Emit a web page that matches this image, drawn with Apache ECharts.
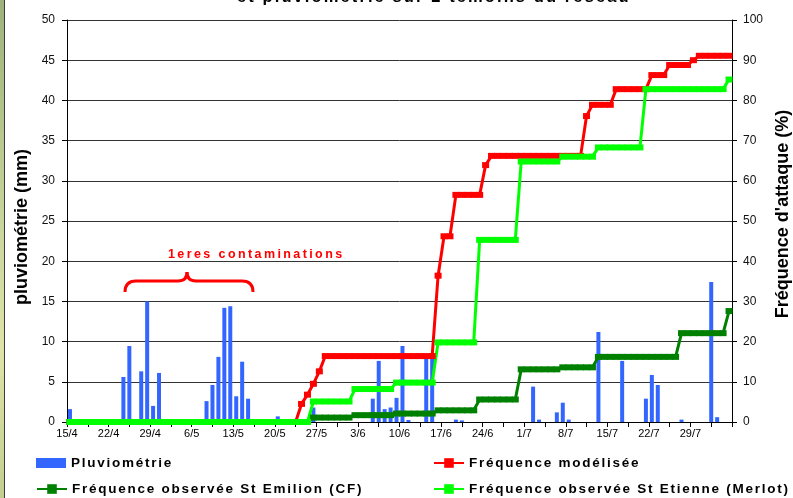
<!DOCTYPE html>
<html>
<head>
<meta charset="utf-8">
<title>Fréquence d'attaque et pluviométrie</title>
<script src="https://cdn.jsdelivr.net/npm/echarts@6/dist/echarts.min.js"></script>
<style>
  html, body { margin: 0; padding: 0; background: #fff; }
  #chart { width: 793px; height: 498px; }
  #strip {
    position: absolute; left: 0; top: 0; width: 4px; height: 498px;
    background: linear-gradient(#9db27c, #c9d69a 45%, #dfe3a8 70%, #c3cf8c);
    border-right: 1px solid #3c3c3c; z-index: 2;
  }
</style>
</head>
<body>
<div id="strip"></div>
<div id="chart"></div>
<script>
// texte "espacé" comme dans le graphique Excel d'origine (police Arial seulement)
// espacement en px selon la taille de police
const spacing = { '12.5': 2.4, '13.5': 1.75, '16.5': 2.1 };
(function () {
  const proto = CanvasRenderingContext2D.prototype;
  if (!('letterSpacing' in proto)) return;
  const fill = proto.fillText;
  proto.fillText = function (text, x, y, maxWidth) {
    const m = /([\d.]+)px Arial/.exec(this.font);
    this.letterSpacing = (m && spacing[m[1]] ? spacing[m[1]] : 0) + 'px';
    const r = maxWidth === undefined ? fill.call(this, text, x, y) : fill.call(this, text, x, y, maxWidth);
    this.letterSpacing = '0px';
    return r;
  };
})();

// étiquettes de l'axe des dates (une par semaine, à partir du 15/4)
const xLabels = ['15/4', '22/4', '29/4', '6/5', '13/5', '20/5', '27/5', '3/6',
  '10/6', '17/6', '24/6', '1/7', '8/7', '15/7', '22/7', '29/7'];

// pluviométrie journalière (mm)
const rainDates = ['15/4', '24/4', '25/4', '27/4', '28/4', '29/4', '30/4',
  '8/5', '9/5', '10/5', '11/5', '12/5', '13/5', '14/5', '15/5', '20/5', '26/5',
  '5/6', '6/6', '7/6', '8/6', '9/6', '10/6', '11/6', '14/6', '15/6', '19/6', '20/6',
  '2/7', '3/7', '6/7', '7/7', '8/7', '13/7', '17/7', '21/7', '22/7', '23/7', '27/7',
  '1/8', '2/8'];
const rainMm = [1.6, 5.6, 9.45, 6.3, 15.0, 2.0, 6.1,
  2.6, 4.6, 8.1, 14.2, 14.4, 3.2, 7.5, 2.9, 0.7, 1.8,
  2.9, 7.6, 1.6, 1.8, 3.0, 9.45, 0.25, 7.9, 7.9, 0.3, 0.2,
  4.4, 0.3, 1.2, 2.4, 0.3, 11.2, 7.6, 2.9, 5.85, 4.6, 0.3,
  17.4, 0.6];

// fréquences d'attaque (%), une valeur par jour du 15/4 au 4/8 (une ligne = une semaine)
const freqModel = [
  0, 0, 0, 0, 0, 0, 0,
  0, 0, 0, 0, 0, 0, 0,
  0, 0, 0, 0, 0, 0, 0,
  0, 0, 0, 0, 0, 0, 0,
  0, 0, 0, 0, 0, 0, 0,
  0, 0, 0, 0, 4.5, 6.8, 9.5,
  12.6, 16.4, 16.4, 16.4, 16.4, 16.4, 16.4,
  16.4, 16.4, 16.4, 16.4, 16.4, 16.4, 16.4,
  16.4, 16.4, 16.4, 16.4, 16.4, 16.4, 36.4,
  46.2, 46.2, 56.5, 56.5, 56.5, 56.5, 56.5,
  63.9, 66.2, 66.2, 66.2, 66.2, 66.2, 66.2,
  66.2, 66.2, 66.2, 66.2, 66.2, 66.2, 66.2,
  66.2, 66.2, 66.2, 76.1, 78.9, 78.9, 78.9,
  78.9, 82.8, 82.8, 82.8, 82.8, 82.8, 82.8,
  86.3, 86.3, 86.3, 88.8, 88.8, 88.8, 88.8,
  90.0, 91.1, 91.1, 91.1, 91.1, 91.1, 91.1
];
const freqEmilion = [
  0, 0, 0, 0, 0, 0, 0,
  0, 0, 0, 0, 0, 0, 0,
  0, 0, 0, 0, 0, 0, 0,
  0, 0, 0, 0, 0, 0, 0,
  0, 0, 0, 0, 0, 0, 0,
  0, 0, 0, 0, 0, 0, 1.1,
  1.1, 1.1, 1.1, 1.1, 1.1, 1.1, 1.7,
  1.7, 1.7, 1.7, 1.7, 1.7, 1.7, 2.1,
  2.1, 2.1, 2.1, 2.1, 2.1, 2.1, 2.9,
  2.9, 2.9, 2.9, 2.9, 2.9, 2.9, 5.6,
  5.6, 5.6, 5.6, 5.6, 5.6, 5.6, 13.1,
  13.1, 13.1, 13.1, 13.1, 13.1, 13.1, 13.6,
  13.6, 13.6, 13.6, 13.6, 13.6, 16.2, 16.2,
  16.2, 16.2, 16.2, 16.2, 16.2, 16.2, 16.2,
  16.2, 16.2, 16.2, 16.2, 16.2, 22.1, 22.1,
  22.1, 22.1, 22.1, 22.1, 22.1, 22.1, 27.6
];
const freqEtienne = [
  0, 0, 0, 0, 0, 0, 0,
  0, 0, 0, 0, 0, 0, 0,
  0, 0, 0, 0, 0, 0, 0,
  0, 0, 0, 0, 0, 0, 0,
  0, 0, 0, 0, 0, 0, 0,
  0, 0, 0, 0, 0, 0, 5.1,
  5.1, 5.1, 5.1, 5.1, 5.1, 5.1, 8.2,
  8.2, 8.2, 8.2, 8.2, 8.2, 8.2, 9.8,
  9.8, 9.8, 9.8, 9.8, 9.8, 9.8, 19.8,
  19.8, 19.8, 19.8, 19.8, 19.8, 19.8, 45.3,
  45.3, 45.3, 45.3, 45.3, 45.3, 45.3, 64.8,
  64.8, 64.8, 64.8, 64.8, 64.8, 64.8, 66.0,
  66.0, 66.0, 66.0, 66.0, 66.0, 68.3, 68.3,
  68.3, 68.3, 68.3, 68.3, 68.3, 68.3, 82.8,
  82.8, 82.8, 82.8, 82.8, 82.8, 82.8, 82.8,
  82.8, 82.8, 82.8, 82.8, 82.8, 82.8, 85.2
];

// nombre de jours depuis le 15/4
const dayOf = (s) => {
  const [d, m] = s.split('/').map(Number);
  return (Date.UTC(2008, m - 1, d) - Date.UTC(2008, 3, 15)) / 86400000;
};
const daily = (arr) => arr.map((v, i) => [i + 0.5, v]);

const FONT = 'Liberation Sans';
const legendText = { fontFamily: 'Arial', fontWeight: 'bold', fontSize: 13.5, color: '#000' };

const lineSeries = (name, data, color) => ({
  name: name,
  type: 'line',
  yAxisIndex: 1,
  data: daily(data),
  symbol: 'rect',
  symbolSize: [7, 6],
  clip: false,
  lineStyle: { width: 3, color: color },
  itemStyle: { color: color }
});

// accolade rouge au-dessus des premières pluies contaminatrices
const braceStyle = { fill: 'none', stroke: '#FF0000', lineWidth: 3 };
const brace = [
  { type: 'bezierCurve', shape: { x1: 125, y1: 292, cpx1: 125, cpy1: 281, x2: 136, y2: 281 }, style: braceStyle },
  { type: 'line', shape: { x1: 136, y1: 281, x2: 178, y2: 281 }, style: braceStyle },
  { type: 'bezierCurve', shape: { x1: 178, y1: 281, cpx1: 187, cpy1: 281, x2: 187, y2: 272 }, style: braceStyle },
  { type: 'bezierCurve', shape: { x1: 187, y1: 272, cpx1: 187, cpy1: 281, x2: 196, y2: 281 }, style: braceStyle },
  { type: 'line', shape: { x1: 196, y1: 281, x2: 242, y2: 281 }, style: braceStyle },
  { type: 'bezierCurve', shape: { x1: 242, y1: 281, cpx1: 253, cpy1: 281, x2: 253, y2: 292 }, style: braceStyle }
];

const chart = echarts.init(document.getElementById('chart'));

const option = {
  animation: false,
  backgroundColor: '#fff',
  grid: { left: 67, right: 61, top: 20, bottom: 76, containLabel: false, outerBoundsMode: 'none' },
  legend: [
    { data: ['Pluviométrie'], left: 31, top: 451, icon: 'rect', itemWidth: 30, itemHeight: 10, textStyle: legendText },
    { data: ['Fréquence modélisée'], left: 428, top: 451, itemWidth: 30, itemHeight: 12, textStyle: legendText },
    { data: ['Fréquence observée St Emilion (CF)'], left: 31, top: 477, itemWidth: 30, itemHeight: 12, textStyle: legendText },
    { data: ['Fréquence observée St Etienne (Merlot)'], left: 428, top: 477, itemWidth: 30, itemHeight: 12, textStyle: legendText }
  ],
  xAxis: {
    type: 'value',
    min: 0,
    max: 112,
    interval: 7,
    axisLine: { lineStyle: { color: '#000', width: 1 } },
    axisTick: { show: true, length: 5, lineStyle: { color: '#000' } },
    minorTick: { show: true, splitNumber: 2, length: 5, lineStyle: { color: '#000' } },
    splitLine: { show: false },
    axisLabel: {
      fontFamily: FONT, fontSize: 11, color: '#000', margin: 6, showMaxLabel: false,
      formatter: (v) => xLabels[Math.round(v / 7)] || ''
    }
  },
  yAxis: [
    {
      type: 'value',
      min: 0,
      max: 50,
      interval: 5,
      name: 'pluviométrie (mm)',
      nameLocation: 'middle',
      nameRotate: 90,
      nameGap: 36,
      nameTextStyle: { fontFamily: FONT, fontWeight: 'bold', fontSize: 18, color: '#000', padding: [0, 12, 0, 0] },
      axisLine: { show: true, lineStyle: { color: '#000' } },
      axisTick: { show: true, length: 5, lineStyle: { color: '#000' } },
      axisLabel: { fontFamily: FONT, fontSize: 12, color: '#111', margin: 12 },
      splitLine: { lineStyle: { color: '#333', width: 1 } }
    },
    {
      type: 'value',
      min: 0,
      max: 100,
      interval: 10,
      position: 'right',
      name: "Fréquence d'attaque (%)",
      nameLocation: 'middle',
      nameRotate: 90,
      nameGap: 42,
      nameTextStyle: { fontFamily: FONT, fontWeight: 'bold', fontSize: 18, color: '#000', padding: [0, 0, 0, 14] },
      axisLine: { show: true, lineStyle: { color: '#000' } },
      axisTick: { show: true, length: 5, lineStyle: { color: '#000' } },
      axisLabel: { fontFamily: FONT, fontSize: 12, color: '#111', margin: 11 },
      splitLine: { show: false }
    }
  ],
  series: [
    {
      name: 'Pluviométrie',
      type: 'bar',
      barWidth: 4,
      data: rainDates.map((d, i) => [dayOf(d) + 0.5, rainMm[i]]),
      itemStyle: { color: '#3366FF' }
    },
    lineSeries('Fréquence modélisée', freqModel, '#FF0000'),
    lineSeries('Fréquence observée St Emilion (CF)', freqEmilion, '#008000'),
    lineSeries('Fréquence observée St Etienne (Merlot)', freqEtienne, '#00FF00')
  ],
  graphic: [
    {
      type: 'text', x: 237, y: -11.5,
      style: { text: 'et pluviométrie sur 2 témoins du réseau', fontFamily: 'Arial', fontWeight: 'bold', fontSize: 16.5, fill: '#000' }
    },
    {
      type: 'text', x: 168, y: 248,
      style: { text: '1eres contaminations', fontFamily: 'Arial', fontWeight: 'bold', fontSize: 12.5, fill: '#FF0000' }
    }
  ].concat(brace)
};

chart.setOption(option);
</script>
</body>
</html>
